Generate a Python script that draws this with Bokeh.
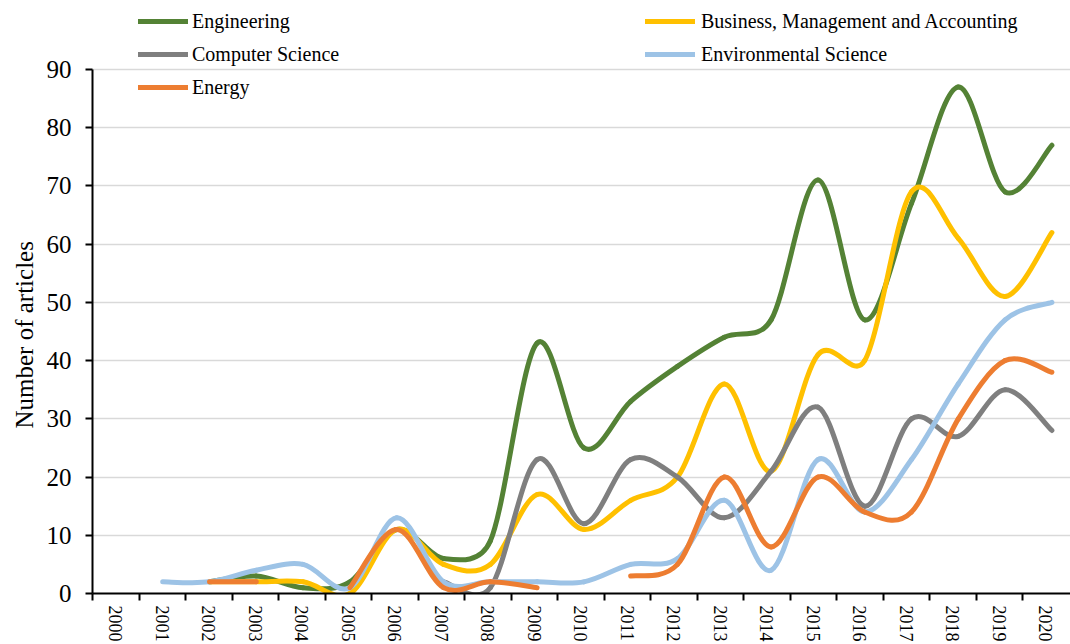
import math
from bokeh.plotting import figure
from bokeh.models import Range1d, FixedTicker, Legend, LegendItem, ColumnDataSource, Title
from bokeh.embed import file_html
from bokeh.resources import INLINE

# ---------------- data ----------------
years = list(range(2000, 2021))
engineering   = [None, None, 2, 3, 1, 2, 11, 6, 9, 43, 25, 33, 39, 44, 47, 71, 47, 67, 87, 69, 77]
business      = [None, None, 2, 2, 2, 0, 11, 5, 5, 17, 11, 16, 20, 36, 21, 41, 40, 69, 61, 51, 62]
computer_sci  = [None, None, None, None, None, None, None, 2, 1, 23, 12, 23, 20, 13, 21, 32, 15, 30, 27, 35, 28]
environmental = [None, 2, 2, 4, 5, 1, 13, 2, 2, 2, 2, 5, 6, 16, 4, 23, 14, 23, 36, 47, 50]
energy        = [None, None, 2, 2, None, 1, 11, 1, 2, 1, None, 3, 5, 20, 8, 20, 14, 14, 30, 40, 38]
y_ticks = [0, 10, 20, 30, 40, 50, 60, 70, 80, 90]

series = [
    ("Engineering", engineering, "#548235"),
    ("Business, Management and Accounting", business, "#FFC000"),
    ("Computer Science", computer_sci, "#7F7F7F"),
    ("Environmental Science", environmental, "#9DC3E6"),
    ("Energy", energy, "#ED7D31"),
]

# ---------------- layout ----------------
W, H = 1070, 644
BL, BR, BT, BB = 92, 0, 0, 51
PX_X = 46.8                      # px per category (data)
PX_Y = 524 / 90.0                # px per unit (0 -> 90 spans 524 px)
Y_TOP = (H - BT - BB) / PX_Y     # frame reaches the top so the legend is not clipped
TICK_STEP = 46.5 / PX_X          # axis category boundary spacing
FONT = "Liberation Serif"

p = figure(width=W, height=H, output_backend="svg", toolbar_location=None,
           x_range=Range1d(-0.5, -0.5 + (W - BL - BR) / PX_X), y_range=Range1d(0, Y_TOP),
           min_border_left=BL, min_border_right=BR, min_border_top=BT, min_border_bottom=BB)
p.outline_line_color = None
p.background_fill_color = "white"
p.border_fill_color = "white"
p.xgrid.visible = False
p.ygrid.ticker = FixedTicker(ticks=y_ticks)
p.ygrid.grid_line_color = "#D9D9D9"
p.ygrid.grid_line_width = 1.5


def runs(vals):
    out, cur = [], []
    for i, v in enumerate(vals):
        if v is None:
            if cur:
                out.append(cur)
            cur = []
        else:
            cur.append((i, v))
    if cur:
        out.append(cur)
    return out


def bez(run):
    P = [(i * PX_X, v * PX_Y) for i, v in run]
    n = len(P)
    d = dict(x0=[], y0=[], x1=[], y1=[], cx0=[], cy0=[], cx1=[], cy1=[])
    for k in range(n - 1):
        p0 = P[k - 1] if k > 0 else P[k]
        p1, p2 = P[k], P[k + 1]
        p3 = P[k + 2] if k + 2 < n else P[k + 1]
        d12 = math.hypot(p2[0] - p1[0], p2[1] - p1[1])
        t1 = [(p2[0] - p0[0]) / 6, (p2[1] - p0[1]) / 6]
        t2 = [(p3[0] - p1[0]) / 6, (p3[1] - p1[1]) / 6]
        for t in (t1, t2):
            L = math.hypot(*t)
            if L > d12 / 2 and L > 0:
                s = (d12 / 2) / L
                t[0] *= s
                t[1] *= s
        c1 = (p1[0] + t1[0], p1[1] + t1[1])
        c2 = (p2[0] - t2[0], p2[1] - t2[1])
        d["x0"].append(p1[0] / PX_X); d["y0"].append(p1[1] / PX_Y)
        d["x1"].append(p2[0] / PX_X); d["y1"].append(p2[1] / PX_Y)
        d["cx0"].append(c1[0] / PX_X); d["cy0"].append(c1[1] / PX_Y)
        d["cx1"].append(c2[0] / PX_X); d["cy1"].append(c2[1] / PX_Y)
    return d


items = {}
for name, vals, color in series:
    rs = []
    for run in runs(vals):
        if len(run) < 2:
            continue
        r = p.bezier(x0="x0", y0="y0", x1="x1", y1="y1", cx0="cx0", cy0="cy0",
                     cx1="cx1", cy1="cy1", source=ColumnDataSource(bez(run)),
                     line_color=color, line_width=5, line_cap="round", line_join="round")
        rs.append(r)
    items[name] = rs

# ---------------- axes ----------------
bounds = [round(-0.5 + k * TICK_STEP, 5) for k in range(21)]
centers = [round(-0.5 + (k + 0.5) * TICK_STEP, 5) for k in range(21)]
xa = p.xaxis[0]
xa.ticker = FixedTicker(ticks=centers, minor_ticks=bounds)
xa.major_label_overrides = {c: str(y) for c, y in zip(centers, years)}
xa.major_tick_out = 0
xa.major_tick_in = 0
xa.minor_tick_out = 7
xa.minor_tick_in = 0
xa.minor_tick_line_color = "black"
xa.minor_tick_line_width = 2
xa.axis_line_color = "black"
xa.axis_line_width = 2
xa.major_label_orientation = "vertical"
xa.major_label_standoff = 5
xa.major_label_text_font = FONT
xa.major_label_text_font_size = "18px"
xa.major_label_text_color = "black"

ya = p.yaxis[0]
ya.ticker = FixedTicker(ticks=y_ticks)
ya.bounds = (0, 90)
ya.major_tick_out = 7
ya.major_tick_in = 0
ya.minor_tick_out = 0
ya.minor_tick_in = 0
ya.major_tick_line_color = "black"
ya.major_tick_line_width = 2
ya.axis_line_color = "black"
ya.axis_line_width = 2
ya.major_label_standoff = 14
ya.major_label_text_font = FONT
ya.major_label_text_font_size = "25px"
ya.major_label_text_color = "black"

# y-axis title, centred on the 0-90 span rather than on the whole frame
ytitle = Title(text="Number of articles", align="left", offset=593 - 428,
               text_font=FONT, text_font_size="25px", text_font_style="normal",
               text_color="black", standoff=12)
p.add_layout(ytitle, "left")


def make_legend(names, loc, standoff):
    lg = Legend(items=[LegendItem(label=n, renderers=items[n]) for n in names],
                location=loc, orientation="vertical",
                padding=0, margin=0, spacing=9, glyph_width=50, glyph_height=24,
                label_height=24, label_standoff=standoff,
                border_line_color=None, background_fill_alpha=0,
                label_text_font=FONT, label_text_font_size="20px", label_text_color="black")
    p.add_layout(lg, "center")


make_legend(["Engineering", "Computer Science", "Energy"], (46, 494), 4)
make_legend(["Business, Management and Accounting", "Environmental Science"], (553, 527), 6)

open("out.html", "w").write(file_html(p, INLINE))
